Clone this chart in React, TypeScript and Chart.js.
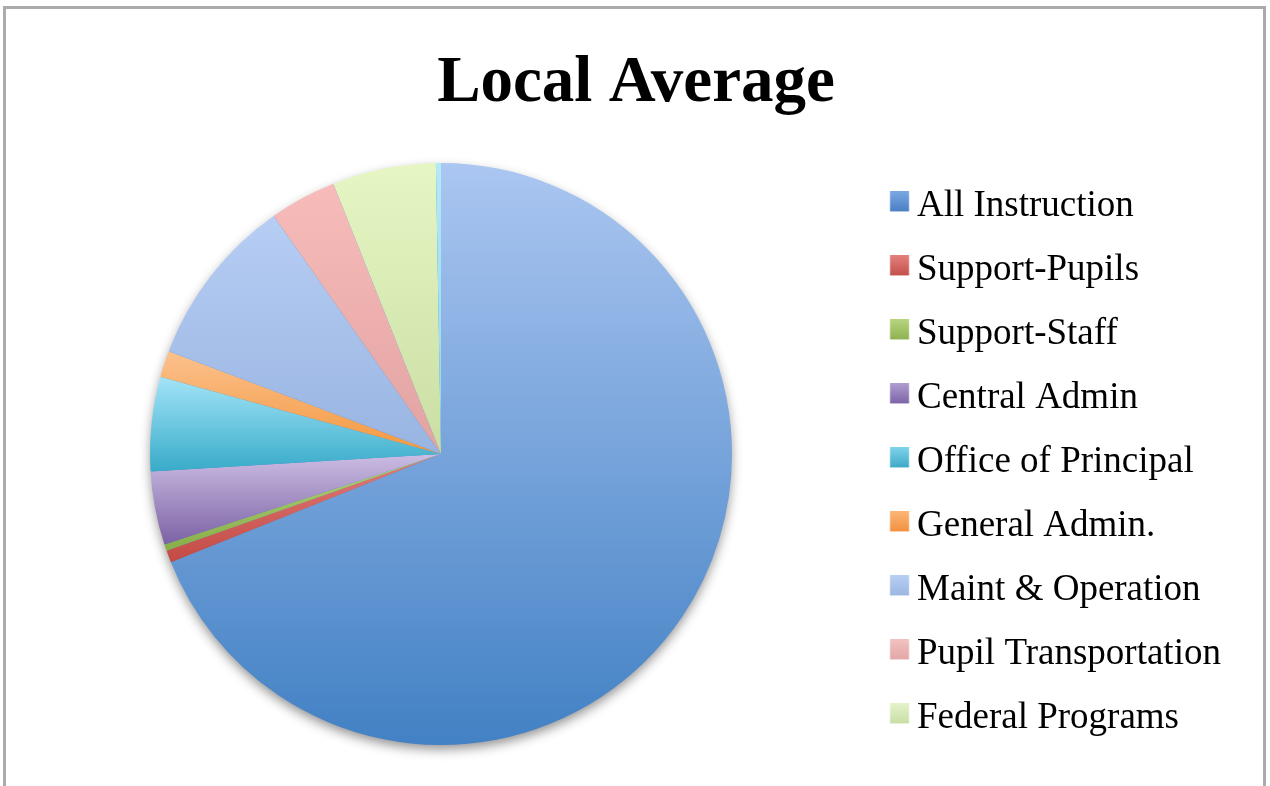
import React, { useEffect, useRef } from 'react';
import { Chart, registerables } from 'chart.js';

Chart.register(...registerables);

// ---------- data ----------
const TITLE = 'Local Average';
const CATEGORIES = [
  'All Instruction',
  'Support-Pupils',
  'Support-Staff',
  'Central Admin',
  'Office of Principal',
  'General Admin.',
  'Maint & Operation',
  'Pupil Transportation',
  'Federal Programs',
  'Other',
];
const SHARES = [68.9, 0.67, 0.36, 4.08, 5.22, 1.47, 9.5, 3.72, 5.75, 0.28];
const LEGEND_LABELS = CATEGORIES.slice(0, 9);

// ---------- styles ----------
const TOP_COLORS = ['#abc6f1', '#e37d79', '#b3d378', '#cbbde3', '#a3e4f7', '#fcc18d', '#b7cef4', '#f7bcba', '#e6f6c4', '#b4e9f8'];
const BOTTOM_COLORS = ['#4281c4', '#c34a45', '#88ae48', '#7c62a5', '#38abc9', '#f3983f', '#98b4e1', '#e2a3a2', '#cadea4', '#8ad8ee'];
const SWATCH_TOP = ['#7ba8e2', '#e4807c', '#b8d57f', '#b09dd0', '#7fd3ea', '#fbb677', '#b9cff3', '#f2c2c1', '#e4f3c9'];
const SWATCH_BOTTOM = ['#4a80c4', '#c4504c', '#8db251', '#7e64a8', '#3ea9c6', '#f39140', '#9ab7e3', '#e3a7a6', '#c9dea5'];

const FONT = "'Liberation Serif', serif";
const W = 1270;
const H = 786;
const PIE_RADIUS = 291;
const PIE_CX = 441;
const TITLE_CX = 636;
const LEGEND_FONT_SIZE = 37;
const LEGEND_ROW = 64;
const LEGEND_TEXT_X = 917;
const SWATCH_LEFT = 890;
const SWATCH_W = 19;
const SWATCH_H = 20;

function sliceFill(c: any) {
  const i = c.dataIndex;
  const chart = c.chart;
  const area = chart.chartArea;
  if (i === undefined || !area) return BOTTOM_COLORS[i ?? 0];
  const data = c.dataset.data as number[];
  const total = data.reduce((a, b) => a + b, 0);
  let before = 0;
  for (let j = 0; j < i; j++) before += data[j];
  const s = (before / total) * Math.PI * 2;
  const e = ((before + data[i]) / total) * Math.PI * 2;
  const cy = (area.top + area.bottom) / 2;
  const R = PIE_RADIUS;
  const ys = [cy, cy - R * Math.cos(s), cy - R * Math.cos(e)];
  if (s <= 1e-9 || e >= Math.PI * 2 - 1e-9) ys.push(cy - R);
  if (s < Math.PI && e > Math.PI) ys.push(cy + R);
  const y0 = Math.min(...ys);
  let y1 = Math.max(...ys);
  if (y1 - y0 < 2) y1 = y0 + 2;
  const g = chart.ctx.createLinearGradient(0, y0, 0, y1);
  g.addColorStop(0, TOP_COLORS[i]);
  g.addColorStop(1, BOTTOM_COLORS[i]);
  return g;
}

// swatch image drawn centred at `cx`; the coloured square sits at SWATCH_LEFT
function makeSwatch(top: string, bottom: string, cx: number) {
  const half = Math.ceil(SWATCH_LEFT + SWATCH_W - cx) + 1;
  const cv = document.createElement('canvas');
  cv.width = half * 2;
  cv.height = 30;
  const c = cv.getContext('2d')!;
  const left = SWATCH_LEFT - (cx - half);
  const g = c.createLinearGradient(0, 0, 0, SWATCH_H);
  g.addColorStop(0, top);
  g.addColorStop(1, bottom);
  c.fillStyle = g;
  c.fillRect(left, 0, SWATCH_W, SWATCH_H);
  return cv;
}

const pieShadow = {
  id: 'pieShadow',
  beforeDatasetsDraw(chart: any) {
    const arc = chart.getDatasetMeta(0).data[0];
    if (!arc) return;
    const { x, y, outerRadius } = arc.getProps(['x', 'y', 'outerRadius'], true);
    const ctx = chart.ctx;
    ctx.save();
    ctx.shadowColor = 'rgba(0,0,0,0.45)';
    ctx.shadowBlur = 12;
    ctx.shadowOffsetY = 5;
    ctx.beginPath();
    ctx.arc(x, y, outerRadius - 1, 0, Math.PI * 2);
    ctx.fillStyle = '#4a86c8';
    ctx.fill();
    ctx.restore();
  },
};

export default function App() {
  const ref = useRef<HTMLCanvasElement>(null);

  useEffect(() => {
    if (!ref.current) return;
    const m = document.createElement('canvas').getContext('2d')!;
    m.font = `normal ${LEGEND_FONT_SIZE}px ${FONT}`;
    const textW = Math.max(...LEGEND_LABELS.map((t) => m.measureText(t).width));
    const pad = LEGEND_ROW - LEGEND_FONT_SIZE;
    const padRight = W - 10 - textW - LEGEND_TEXT_X;
    const padLeft = 2 * TITLE_CX - W + padRight;
    const legendLeft = 2 * PIE_CX - padLeft;
    const boxW = LEGEND_TEXT_X - legendLeft - pad - LEGEND_FONT_SIZE / 2;
    const swatchCx = legendLeft + pad + boxW / 2;
    const swatches = LEGEND_LABELS.map((_, i) => makeSwatch(SWATCH_TOP[i], SWATCH_BOTTOM[i], swatchCx));

    const chart = new Chart(ref.current, {
      type: 'pie',
      data: {
        labels: CATEGORIES,
        datasets: [
          {
            data: SHARES,
            backgroundColor: sliceFill as any,
            borderWidth: 0,
            radius: PIE_RADIUS,
          } as any,
        ],
      },
      options: {
        responsive: false,
        animation: false,
        layout: { padding: { left: padLeft, right: padRight, top: 0, bottom: 21 } },
        plugins: {
          title: {
            display: true,
            text: TITLE,
            color: '#000',
            font: { family: FONT, size: 65, weight: 'bold', lineHeight: 1.2 },
            padding: { top: 45, bottom: 20 },
          },
          legend: {
            position: 'right',
            align: 'center',
            fullSize: false,
            title: { display: true, text: '', padding: 0, font: { size: 14, lineHeight: 1.2 } },
            labels: {
              usePointStyle: true,
              pointStyleWidth: boxW,
              boxWidth: boxW,
              padding: pad,
              color: '#000',
              font: { family: FONT, size: LEGEND_FONT_SIZE },
              generateLabels: () =>
                LEGEND_LABELS.map((t, i) => ({
                  text: t,
                  pointStyle: swatches[i],
                  fillStyle: SWATCH_BOTTOM[i],
                  strokeStyle: 'transparent',
                  fontColor: '#000',
                  lineWidth: 0,
                  hidden: false,
                  index: i,
                  datasetIndex: 0,
                })) as any,
            },
          },
          tooltip: { enabled: false },
        },
      },
      plugins: [pieShadow],
    });
    return () => chart.destroy();
  }, []);

  return (
    <div style={{ position: 'fixed', left: 0, top: 0, width: W, height: H, overflow: 'hidden', background: '#fff' }}>
      <div
        style={{
          position: 'absolute',
          left: 3,
          top: 6,
          width: 1257,
          height: 820,
          border: '3px solid #ababab',
        }}
      />
      <canvas ref={ref} width={W} height={H} style={{ position: 'absolute', left: 0, top: 0 }} />
    </div>
  );
}
